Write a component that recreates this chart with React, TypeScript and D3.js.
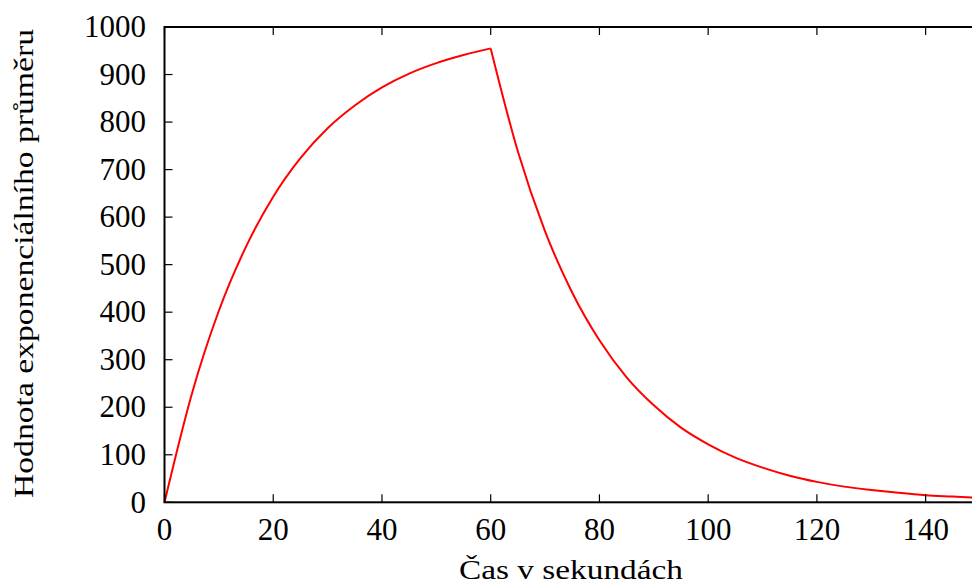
import React, { useEffect, useRef } from 'react';
import * as d3 from 'd3';

// time in seconds and the moving average
const times = [0, 5, 10, 15, 20, 25, 30, 35, 40, 45, 50, 55, 60,
  65, 70, 75, 80, 85, 90, 95, 100, 105, 110, 115, 120, 125, 130, 135, 140, 145, 150];
const averages = [0, 227, 403, 538, 643, 724, 787, 835, 873, 902, 924, 941, 955,
  738, 570, 441, 341, 263, 204, 157, 122, 94, 73, 56, 43, 33, 26, 20, 15, 12, 9];
const xTicks = [0, 20, 40, 60, 80, 100, 120, 140];
const yTicks = [0, 100, 200, 300, 400, 500, 600, 700, 800, 900, 1000];

const xLabel = 'Čas v sekundách';
const yLabel = 'Hodnota exponenciálního průměru';

const W = 972;
const H = 585;
const font = '"Liberation Serif", "DejaVu Serif", serif';

export default function App() {
  const ref = useRef<SVGSVGElement>(null);

  useEffect(() => {
    const svg = d3.select(ref.current);
    svg.selectAll('*').remove();

    const left = 164.5, right = 980, top = 27, bottom = 502.3;
    const x = d3.scaleLinear().domain([0, 150]).range([left, right]);
    const y = d3.scaleLinear().domain([0, 1000]).range([bottom, top]);
    const tl = 8;

    const data = times.map((t, i) => ({ t, v: averages[i] }));

    const g = svg.append('g');

    const line = d3.line<{ t: number; v: number }>()
      .x(d => x(d.t))
      .y(d => y(d.v))
      .curve(d3.curveMonotoneX);

    // rise and decay drawn apart so the peak stays sharp
    const rise = data.filter(d => d.t <= 60);
    const fall = data.filter(d => d.t >= 60);
    [rise, fall].forEach(seg => {
      g.append('path')
        .datum(seg)
        .attr('d', line)
        .attr('fill', 'none')
        .attr('stroke', '#ff0000')
        .attr('stroke-width', 2);
    });

    // ticks on all four sides, pointing inwards
    const ticks = g.append('g').attr('stroke', '#000').attr('stroke-width', 1.2);
    xTicks.forEach(t => {
      ticks.append('line').attr('x1', x(t)).attr('x2', x(t)).attr('y1', bottom).attr('y2', bottom - tl);
      ticks.append('line').attr('x1', x(t)).attr('x2', x(t)).attr('y1', top).attr('y2', top + tl);
    });
    yTicks.forEach(t => {
      ticks.append('line').attr('x1', left).attr('x2', left + tl).attr('y1', y(t)).attr('y2', y(t));
      ticks.append('line').attr('x1', right).attr('x2', right - tl).attr('y1', y(t)).attr('y2', y(t));
    });

    // frame
    g.append('rect')
      .attr('x', left).attr('y', top)
      .attr('width', right - left).attr('height', bottom - top)
      .attr('fill', 'none')
      .attr('stroke', '#000')
      .attr('stroke-width', 2);

    // tick labels
    g.append('g').selectAll('text')
      .data(xTicks)
      .enter().append('text')
      .attr('x', d => x(d))
      .attr('y', 540)
      .attr('text-anchor', 'middle')
      .attr('font-family', font)
      .attr('font-size', 31)
      .text(d => d);

    g.append('g').selectAll('text')
      .data(yTicks)
      .enter().append('text')
      .attr('x', 146)
      .attr('y', d => y(d))
      .attr('dy', '0.33em')
      .attr('text-anchor', 'end')
      .attr('font-family', font)
      .attr('font-size', 31)
      .text(d => d);

    // axis titles, stretched to the width of the original's font
    g.append('text')
      .attr('x', 571)
      .attr('y', 579)
      .attr('text-anchor', 'middle')
      .attr('font-family', font)
      .attr('font-size', 28)
      .attr('textLength', 224)
      .attr('lengthAdjust', 'spacingAndGlyphs')
      .text(xLabel);

    g.append('text')
      .attr('transform', 'translate(33,263.5) rotate(-90)')
      .attr('text-anchor', 'middle')
      .attr('font-family', font)
      .attr('font-size', 28)
      .attr('textLength', 469)
      .attr('lengthAdjust', 'spacingAndGlyphs')
      .text(yLabel);
  }, []);

  return (
    <svg ref={ref} width={W} height={H}
      style={{ position: 'absolute', left: 0, top: 0, background: '#fff' }} />
  );
}
